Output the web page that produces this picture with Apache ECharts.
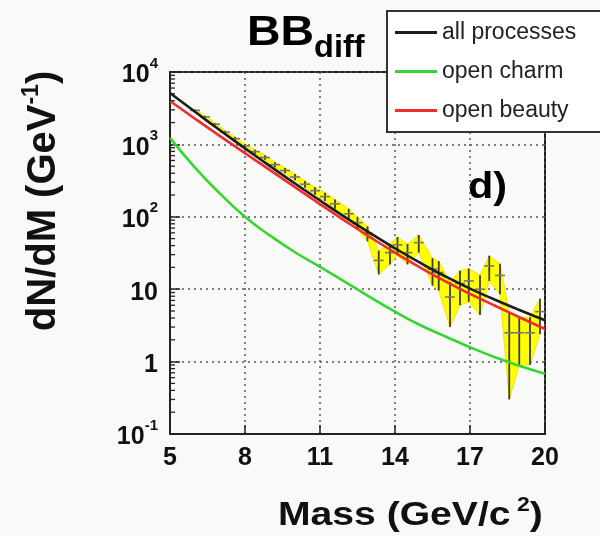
<!DOCTYPE html>
<html>
<head>
<meta charset="utf-8">
<script src="https://cdn.jsdelivr.net/npm/echarts@6/dist/echarts.min.js"></script>
<style>
  html, body { margin: 0; padding: 0; background: #f9f9f7; }
  #chart { width: 600px; height: 536px; }
</style>
</head>
<body>
<div id="chart"></div>
<script>
// Model curves: dN/dM (GeV^-1) versus dimuon mass (GeV/c^2)
const curveMass = [5, 6, 7, 8, 9, 10, 11, 12, 13, 14, 15, 16, 17, 18, 19, 20];
const allProcesses = [5130, 2820, 1567, 881, 501, 288, 168, 99, 59.6, 36.7, 23.2, 15.1, 10.2, 7.16, 5.13, 3.72];
const openCharm = [1230, 479, 209, 100, 55, 32.4, 20.4, 12.6, 7.8, 4.9, 3.2, 2.24, 1.58, 1.15, 0.87, 0.68];
const openBeauty = [3980, 2265, 1303, 759, 442, 257, 150, 88, 52.5, 32, 20, 12.9, 8.6, 5.9, 4.07, 2.82];

// Simulated spectrum: bin centres, counts and statistical errors
const dataMass = [6.0, 6.4, 6.8, 7.2, 7.6, 8.0, 8.4, 8.8, 9.2, 9.6, 10.0, 10.4, 10.8, 11.2, 11.6,
  12.15, 12.5, 12.9, 13.35, 13.8, 14.1, 14.5, 14.95, 15.5, 15.75, 16.2, 16.6, 16.95, 17.4, 17.77,
  18.2, 18.57, 18.97, 19.4, 19.8];
const dataCounts = [2950, 2400, 1900, 1480, 1200, 955, 795, 660, 525, 435, 355, 282, 229, 190, 151,
  110, 83, 60, 25, 32, 41, 32, 44, 19, 17, 7.8, 12, 13, 10, 21,
  15.5, 2.5, 2.5, 2.5, 4.9];
const dataErrors = [95, 85, 78, 68, 62, 55, 50, 46, 41, 37, 34, 30, 27, 25, 22,
  19, 16, 14, 9, 10, 11.5, 10, 12, 7.8, 7.4, 4.8, 6, 6.3, 5.6, 8,
  7, 2.2, 1.6, 1.6, 2.5];

const xTicks = [5, 8, 11, 14, 17, 20];
const yDecades = [0.1, 1, 10, 100, 1000, 10000];
const seriesNames = ['all processes', 'open charm', 'open beauty'];

const FONT = '"Liberation Sans", Arial, Helvetica, sans-serif';
const Y_MIN = 0.1;
const BIN_HALF = 0.2;

// minor log ticks 2..9 within every decade
const yMinor = [];
yDecades.slice(0, -1).forEach(d => { for (let k = 2; k <= 9; k++) yMinor.push(d * k); });

const zip = (xs, ys) => xs.map((x, i) => [x, ys[i]]);

const chart = echarts.init(document.getElementById('chart'), null, { renderer: 'canvas' });

const curveStyle = (color) => ({
  type: 'line', smooth: 0.5, showSymbol: false, symbol: 'none',
  lineStyle: { color: color, width: 2.6 }, itemStyle: { color: color },
  z: 5, silent: true
});

chart.setOption({
  backgroundColor: '#f9f9f7',
  animation: false,
  grid: {
    left: 170, right: 55, top: 72, bottom: 102,
    show: true, borderColor: '#222', borderWidth: 2, backgroundColor: 'transparent'
  },
  legend: {
    data: seriesNames,
    orient: 'vertical', left: 387, top: 11,
    itemWidth: 42, itemHeight: 3, itemGap: 14, icon: 'rect',
    padding: [9, 60, 9, 8],
    backgroundColor: '#ffffff', borderColor: '#333', borderWidth: 2, borderRadius: 0,
    textStyle: { fontSize: 23, color: '#222', fontFamily: FONT, lineHeight: 25 }
  },
  xAxis: {
    type: 'value', min: xTicks[0], max: xTicks[xTicks.length - 1], interval: 3,
    axisLine: { show: true, lineStyle: { color: '#222', width: 2 } },
    axisTick: { show: true, inside: true, length: 9, lineStyle: { color: '#222', width: 1.5 } },
    axisLabel: { fontSize: 25, fontWeight: 'bold', color: '#111', margin: 12, fontFamily: FONT },
    splitLine: { show: true, lineStyle: { type: [2, 4], color: '#555', width: 1.5 } }
  },
  yAxis: {
    type: 'log', logBase: 10, min: yDecades[0], max: yDecades[yDecades.length - 1],
    axisLine: { show: true, lineStyle: { color: '#222', width: 2 } },
    axisTick: { show: true, inside: true, length: 10, lineStyle: { color: '#222', width: 1.5 } },
    axisLabel: {
      margin: 12, color: '#111', fontFamily: FONT,
      formatter: (v) => {
        const e = Math.round(Math.log10(v));
        if (e === 0) return '{b|1}';
        if (e === 1) return '{b|10}';
        return '{b|10}{s|' + e + '}';
      },
      rich: {
        b: { fontSize: 25, fontWeight: 'bold', color: '#111', fontFamily: FONT, lineHeight: 32, verticalAlign: 'bottom' },
        s: { fontSize: 15, fontWeight: 'bold', color: '#111', fontFamily: FONT, lineHeight: 8, verticalAlign: 'top' }
      }
    },
    splitLine: { show: true, lineStyle: { type: [2, 4], color: '#555', width: 1.5 } }
  },
  series: [
    {
      // yellow error band joining the bin edges
      type: 'custom', name: 'band', silent: true, z: 2,
      data: [[dataMass[0], dataCounts[0]]],
      encode: { x: 0, y: 1 },
      renderItem: (params, api) => {
        const upper = dataMass.map((m, i) => api.coord([m, dataCounts[i] + dataErrors[i]]));
        const lower = dataMass.map((m, i) => api.coord([m, Math.max(dataCounts[i] - dataErrors[i], Y_MIN * 1.5)])).reverse();
        return {
          type: 'polygon',
          shape: { points: upper.concat(lower) },
          style: { fill: '#ffff00', stroke: '#f2e600', lineWidth: 1 }
        };
      }
    },
    {
      // error crosses on each bin
      type: 'custom', name: 'points', silent: true, z: 3,
      data: dataMass.map((m, i) => [m, dataCounts[i], dataErrors[i]]),
      encode: { x: 0, y: 1 },
      renderItem: (params, api) => {
        const m = api.value(0), v = api.value(1), e = api.value(2);
        const top = api.coord([m, v + e]);
        const bot = api.coord([m, Math.max(v - e, Y_MIN * 1.5)]);
        const l = api.coord([m - BIN_HALF, v]);
        const r = api.coord([m + BIN_HALF, v]);
        const st = { stroke: '#3a3a3a', lineWidth: 1.8 };
        return {
          type: 'group',
          children: [
            { type: 'line', shape: { x1: top[0], y1: top[1], x2: bot[0], y2: bot[1] }, style: st },
            { type: 'line', shape: { x1: l[0], y1: l[1], x2: r[0], y2: r[1] }, style: { stroke: '#777', lineWidth: 1.6 } }
          ]
        };
      }
    },
    {
      // minor ticks on the log axis
      type: 'custom', name: 'minor', silent: true, z: 6,
      data: yMinor.map(v => [xTicks[0], v]),
      encode: { x: 0, y: 1 },
      renderItem: (params, api) => {
        const p = api.coord([api.value(0), api.value(1)]);
        return { type: 'line', shape: { x1: p[0], y1: p[1], x2: p[0] + 5, y2: p[1] }, style: { stroke: '#222', lineWidth: 1.3 } };
      }
    },
    Object.assign({ name: seriesNames[1], data: zip(curveMass, openCharm) }, curveStyle('#35d535')),
    Object.assign({ name: seriesNames[2], data: zip(curveMass, openBeauty) }, curveStyle('#ee2e2e')),
    Object.assign({ name: seriesNames[0], data: zip(curveMass, allProcesses) }, curveStyle('#1c1c1c'))
  ],
  graphic: [
    { type: 'text', left: 247, top: 12, scaleX: 1.08, style: { text: 'BB', font: 'bold 43px ' + FONT, fill: '#000' } },
    { type: 'text', left: 314, top: 33, scaleX: 1.05, style: { text: 'diff', font: 'bold 31px ' + FONT, fill: '#000' } },
    { type: 'text', left: 468, top: 170, scaleX: 1.15, style: { text: 'd)', font: 'bold 36px ' + FONT, fill: '#000' } },
    {
      type: 'text', left: 278, top: 495, scaleX: 1.15,
      style: {
        text: '{m|Mass (GeV/c}{s| 2}{m|)}',
        rich: {
          m: { font: 'bold 34px ' + FONT, fill: '#111', lineHeight: 38, verticalAlign: 'bottom' },
          s: { font: 'bold 20px ' + FONT, fill: '#111', lineHeight: 16, verticalAlign: 'top' }
        }
      }
    },
    {
      type: 'text', x: 42, y: 201, rotation: Math.PI / 2,
      style: {
        text: '{m|dN/dM (GeV}{s|-1}{m|)}', align: 'center', verticalAlign: 'middle',
        rich: {
          m: { font: 'bold 40px ' + FONT, fill: '#111', lineHeight: 44, verticalAlign: 'bottom' },
          s: { font: 'bold 23px ' + FONT, fill: '#111', lineHeight: 18, verticalAlign: 'top' }
        }
      }
    }
  ]
});
</script>
</body>
</html>
